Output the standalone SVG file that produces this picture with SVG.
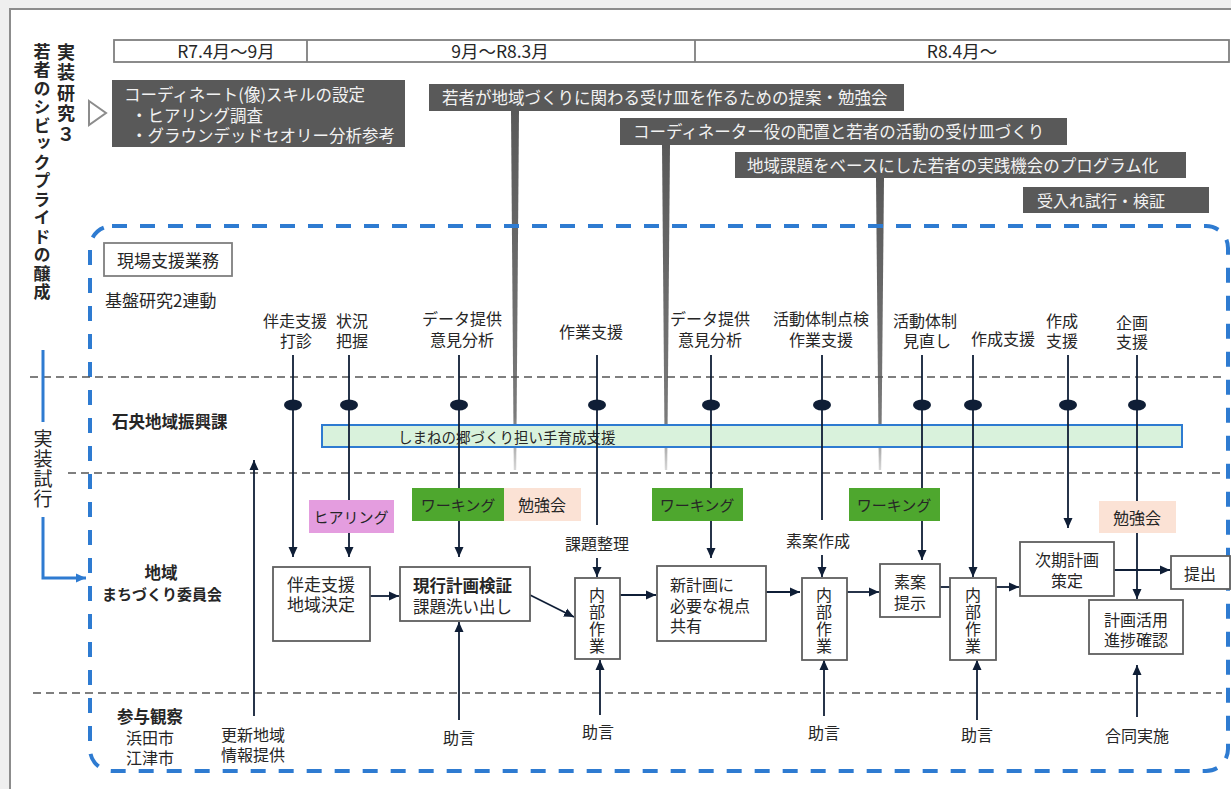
<svg xmlns="http://www.w3.org/2000/svg" width="1231" height="789" viewBox="0 0 1231 789">
<defs>
<style>
text{font-family:"Noto Sans CJK JP","Noto Sans",sans-serif;fill:#262626;font-size:16px}
.b{font-weight:bold}
.m{text-anchor:middle}
.w{fill:#f2f2f2;font-size:16.5px}
.bx{fill:#fff;stroke:#5f5f5f;stroke-width:1.8}
.dk{fill:#595959}
.ln{stroke:#0f1e36;stroke-width:1.8;fill:none}
.hd{stroke:#555;stroke-width:1.4;stroke-dasharray:8 5;fill:none}
.gr{fill:#4ea72e}
.pc{fill:#fbe2d5}
.v{writing-mode:vertical-rl;letter-spacing:1px}
</style>
<marker id="ar" markerWidth="10" markerHeight="10" refX="10" refY="5" orient="auto" markerUnits="userSpaceOnUse">
<path d="M0,0.5 L10,5 L0,9.5 z" fill="#0f1e36"/>
</marker>
<marker id="ab" markerWidth="10" markerHeight="10" refX="10" refY="5" orient="auto" markerUnits="userSpaceOnUse">
<path d="M0,0.5 L10,5 L0,9.5 z" fill="#2e7bd1"/>
</marker>
<linearGradient id="wg" x1="0" y1="0" x2="0" y2="1">
<stop offset="0" stop-color="#595959"/>
<stop offset="0.85" stop-color="#7a7a7a"/>
<stop offset="1" stop-color="#d8d8d8"/>
</linearGradient>
</defs>

<rect x="0" y="0" width="1231" height="789" fill="#efefef"/>
<rect x="10" y="9" width="1240" height="800" fill="#fff" stroke="#8c8c8c" stroke-width="2"/>

<g id="title">
<text class="b" x="66" y="43" writing-mode="vertical-rl" style="font-size:18px;letter-spacing:2.5px">実装研究３</text>
<text class="b" x="42" y="43" writing-mode="vertical-rl" style="font-size:17px;letter-spacing:1.5px">若者のシビックプライドの醸成</text>
<path d="M89,101 L106,113 L89,125 z" fill="#fff" stroke="#8c8c8c" stroke-width="2"/>
</g>

<g id="timeline">
<rect x="114" y="40" width="1115" height="22" fill="#fff" stroke="#7f7f7f" stroke-width="1.8"/>
<line x1="307" y1="40" x2="307" y2="62" stroke="#7f7f7f" stroke-width="1.8"/>
<line x1="695" y1="40" x2="695" y2="62" stroke="#7f7f7f" stroke-width="1.8"/>
<text class="m" x="226" y="57.5" style="font-size:17.5px">R7.4月～9月</text>
<text class="m" x="500" y="57.5" style="font-size:17.5px">9月～R8.3月</text>
<text class="m" x="962" y="57.5" style="font-size:17.5px">R8.4月～</text>
</g>

<g id="skill">
<rect class="dk" x="112" y="80" width="293" height="67"/>
<text class="w" x="124" y="101">コーディネート(像)スキルの設定<tspan x="131" dy="21">・ヒアリング調査</tspan><tspan x="131" dy="20">・グラウンデッドセオリー分析参考</tspan></text>
</g>

<g id="wedges">
<polygon points="511,111 519,111 516.2,470 513.8,470" fill="url(#wg)"/>
<polygon points="662,145 670,145 667.2,470 664.8,470" fill="url(#wg)"/>
<polygon points="876,178 884,178 881.2,470 878.8,470" fill="url(#wg)"/>
</g>

<g id="bar1"><rect class="dk" x="429" y="84" width="475" height="27"/><text class="w" x="442" y="104">若者が地域づくりに関わる受け皿を作るための提案・勉強会</text></g>
<g id="bar2"><rect class="dk" x="620" y="118" width="447" height="27"/><text class="w" x="633" y="138">コーディネーター役の配置と若者の活動の受け皿づくり</text></g>
<g id="bar3"><rect class="dk" x="735" y="152" width="451" height="26"/><text class="w" x="747" y="172">地域課題をベースにした若者の実践機会のプログラム化</text></g>
<g id="bar4"><rect class="dk" x="1023" y="187" width="186" height="26"/><text class="w" x="1037" y="207" style="font-size:16px">受入れ試行・検証</text></g>

<rect x="90" y="226" width="1138" height="545" rx="22" fill="none" stroke="#2e7bd1" stroke-width="4" stroke-dasharray="15 13"/>

<g id="gridlines">
<line class="hd" x1="30" y1="377" x2="1222" y2="377"/>
<line class="hd" x1="68" y1="473" x2="1222" y2="473"/>
<line class="hd" x1="33" y1="693" x2="1222" y2="693"/>
</g>

<g id="side">
<line x1="43" y1="350" x2="43" y2="422" stroke="#2e7bd1" stroke-width="3"/>
<text x="43" y="429" class="v" style="font-size:19px">実装試行</text>
<path d="M43,517 L43,578 L86,578" fill="none" stroke="#2e7bd1" stroke-width="3" marker-end="url(#ab)"/>
</g>

<g id="genba">
<rect x="104" y="243" width="128" height="33" fill="#fff" stroke="#7f7f7f" stroke-width="1.8"/>
<text x="117" y="267" style="font-size:17px">現場支援業務</text>
<text x="105" y="307" style="font-size:17px">基盤研究2連動</text>
</g>

<g id="rowlabels">
<text class="b" x="112" y="428" style="font-size:16.5px">石央地域振興課</text>
<text class="b m" x="161" y="579" style="font-size:16.5px">地域<tspan x="162" dy="21" style="font-size:15px">まちづくり委員会</tspan></text>
<text class="b" x="117" y="723" style="font-size:16.5px">参与観察</text>
<text class="m" x="150" y="744">浜田市<tspan x="150" dy="20">江津市</tspan></text>
</g>

<g id="green-bar">
<rect x="322" y="425" width="860" height="22" fill="#d9f2dc" stroke="#2e7bd1" stroke-width="2"/>
<text x="398" y="443" style="font-size:14.5px">しまねの郷づくり担い手育成支援</text>
</g>

<g id="toplabels">
<text class="m" x="295" y="327">伴走支援<tspan x="296" dy="20">打診</tspan></text>
<text class="m" x="352" y="327">状況<tspan x="352" dy="20">把握</tspan></text>
<text class="m" x="462" y="325">データ提供<tspan x="462" dy="21">意見分析</tspan></text>
<text class="m" x="591" y="338">作業支援</text>
<text class="m" x="710" y="325">データ提供<tspan x="710" dy="21">意見分析</tspan></text>
<text class="m" x="821" y="325">活動体制点検<tspan x="821" dy="21">作業支援</tspan></text>
<text class="m" x="925" y="327">活動体制<tspan x="927" dy="20">見直し</tspan></text>
<text class="m" x="1003" y="345">作成支援</text>
<text class="m" x="1062" y="327">作成<tspan x="1062" dy="20">支援</tspan></text>
<text class="m" x="1132" y="329">企画<tspan x="1132" dy="19">支援</tspan></text>
</g>

<g id="connectors">
<line class="ln" x1="293" y1="355" x2="293" y2="557" marker-end="url(#ar)"/>
<line class="ln" x1="349" y1="355" x2="349" y2="557" marker-end="url(#ar)"/>
<line class="ln" x1="459" y1="355" x2="459" y2="557" marker-end="url(#ar)"/>
<line class="ln" x1="597" y1="355" x2="597" y2="525"/>
<line class="ln" x1="597" y1="558" x2="597" y2="577" marker-end="url(#ar)"/>
<line class="ln" x1="711" y1="355" x2="711" y2="558" marker-end="url(#ar)"/>
<line class="ln" x1="822" y1="355" x2="822" y2="520"/>
<line class="ln" x1="822" y1="555" x2="822" y2="577" marker-end="url(#ar)"/>
<line class="ln" x1="922" y1="355" x2="922" y2="560" marker-end="url(#ar)"/>
<line class="ln" x1="973" y1="355" x2="973" y2="577" marker-end="url(#ar)"/>
<line class="ln" x1="1068" y1="355" x2="1068" y2="528" marker-end="url(#ar)"/>
<line class="ln" x1="1137" y1="355" x2="1137" y2="599" marker-end="url(#ar)"/>
<line class="ln" x1="254" y1="716" x2="254" y2="460" marker-end="url(#ar)"/>
<line class="ln" x1="459" y1="720" x2="459" y2="622" marker-end="url(#ar)"/>
<line class="ln" x1="600" y1="715" x2="600" y2="660" marker-end="url(#ar)"/>
<line class="ln" x1="824" y1="716" x2="824" y2="660" marker-end="url(#ar)"/>
<line class="ln" x1="977" y1="720" x2="977" y2="660" marker-end="url(#ar)"/>
<line class="ln" x1="1137" y1="717" x2="1137" y2="665" marker-end="url(#ar)"/>
<line class="ln" x1="370" y1="596" x2="399" y2="596" marker-end="url(#ar)"/>
<line class="ln" x1="530" y1="595" x2="574" y2="617" marker-end="url(#ar)"/>
<line class="ln" x1="620" y1="595" x2="656" y2="595" marker-end="url(#ar)"/>
<line class="ln" x1="766" y1="592" x2="800" y2="592" marker-end="url(#ar)"/>
<line class="ln" x1="847" y1="592" x2="879" y2="592" marker-end="url(#ar)"/>
<line class="ln" x1="940" y1="587" x2="950" y2="587"/>
<line class="ln" x1="996" y1="587" x2="1019" y2="587" marker-end="url(#ar)"/>
<line class="ln" x1="1114" y1="570" x2="1170" y2="570" marker-end="url(#ar)"/>
<g fill="#0f1e36">
<ellipse cx="293" cy="405" rx="9" ry="5.5"/>
<ellipse cx="349" cy="405" rx="9" ry="5.5"/>
<ellipse cx="459" cy="405" rx="9" ry="5.5"/>
<ellipse cx="597" cy="405" rx="9" ry="5.5"/>
<ellipse cx="711" cy="405" rx="9" ry="5.5"/>
<ellipse cx="822" cy="405" rx="9" ry="5.5"/>
<ellipse cx="922" cy="405" rx="9" ry="5.5"/>
<ellipse cx="973" cy="405" rx="9" ry="5.5"/>
<ellipse cx="1068" cy="405" rx="9" ry="5.5"/>
<ellipse cx="1137" cy="405" rx="9" ry="5.5"/>
</g>
</g>

<g id="tags">
<g id="hearing"><rect x="309" y="500" width="85" height="33" fill="#e49ddf"/><text class="m" x="351" y="523" style="font-size:15px">ヒアリング</text></g>
<g id="working1"><rect class="gr" x="412" y="488" width="92" height="33"/><text class="m" x="458" y="511" style="font-size:15px">ワーキング</text></g>
<g id="study1"><rect class="pc" x="504" y="488" width="77" height="33"/><text class="m" x="542" y="511">勉強会</text></g>
<g id="working2"><rect class="gr" x="652" y="488" width="91" height="33"/><text class="m" x="697" y="511" style="font-size:15px">ワーキング</text></g>
<g id="working3"><rect class="gr" x="849" y="488" width="91" height="33"/><text class="m" x="894" y="511" style="font-size:15px">ワーキング</text></g>
<g id="study2"><rect class="pc" x="1099" y="501" width="77" height="32"/><text class="m" x="1137" y="524">勉強会</text></g>
<text class="m" x="597" y="550">課題整理</text>
<text class="m" x="818" y="547">素案作成</text>
</g>

<g id="n-bansou"><rect class="bx" x="273" y="567" width="97" height="74"/><text class="m" x="321" y="591" style="font-size:17px">伴走支援<tspan x="321" dy="20">地域決定</tspan></text></g>
<g id="n-genkou"><rect class="bx" x="400" y="567" width="130" height="54"/><text class="b" x="413" y="592" style="font-size:16.5px">現行計画検証<tspan x="413" dy="21" style="font-weight:normal">課題洗い出し</tspan></text></g>
<g id="n-naibu1"><rect class="bx" x="575" y="578" width="45" height="81"/><text class="v" x="597" y="587">内部作業</text></g>
<g id="n-shinkeikaku"><rect class="bx" x="657" y="566" width="109" height="75"/><text x="670" y="591">新計画に<tspan x="670" dy="21">必要な視点</tspan><tspan x="670" dy="20">共有</tspan></text></g>
<g id="n-naibu2"><rect class="bx" x="802" y="578" width="45" height="82"/><text class="v" x="824" y="587">内部作業</text></g>
<g id="n-soan"><rect class="bx" x="880" y="564" width="60" height="53"/><text class="m" x="910" y="588">素案<tspan x="910" dy="21">提示</tspan></text></g>
<g id="n-naibu3"><rect class="bx" x="950" y="578" width="46" height="82"/><text class="v" x="973" y="587">内部作業</text></g>
<g id="n-jiki"><rect class="bx" x="1020" y="542" width="94" height="54"/><text class="m" x="1067" y="566">次期計画<tspan x="1067" dy="21">策定</tspan></text></g>
<g id="n-teishutsu"><rect class="bx" x="1171" y="556" width="59" height="33"/><text class="m" x="1200" y="580">提出</text></g>
<g id="n-katsuyou"><rect class="bx" x="1089" y="600" width="94" height="54"/><text class="m" x="1136" y="626">計画活用<tspan x="1136" dy="20">進捗確認</tspan></text></g>

<g id="bottomlabels">
<text class="m" x="253" y="741">更新地域<tspan x="253" dy="20">情報提供</tspan></text>
<text class="m" x="459" y="744">助言</text>
<text class="m" x="598" y="738">助言</text>
<text class="m" x="824" y="739">助言</text>
<text class="m" x="977" y="741">助言</text>
<text class="m" x="1137" y="742">合同実施</text>
</g>
</svg>
